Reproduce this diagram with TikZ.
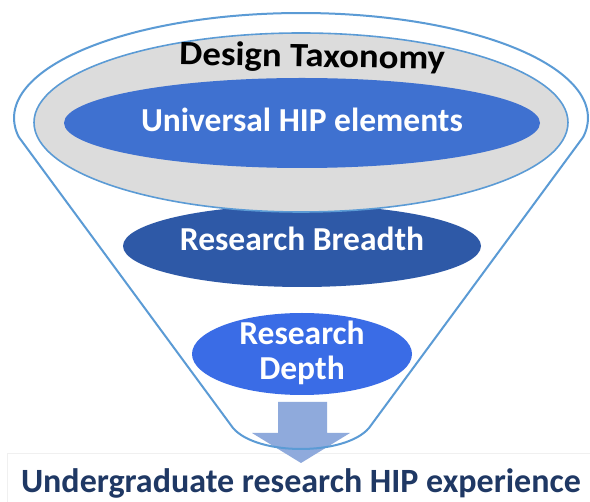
\documentclass[tikz,border=0pt]{standalone}
\usepackage{fontspec}
\setmainfont{Carlito}
\usetikzlibrary{shapes.geometric}
\definecolor{funnelblue}{HTML}{5B9BD5}
\definecolor{taxgray}{HTML}{DCDCDC}
\definecolor{univblue}{HTML}{3F71D0}
\definecolor{breadthblue}{HTML}{2E59A7}
\definecolor{depthblue}{HTML}{3A6CE6}
\definecolor{arrowblue}{HTML}{8FAADC}
\definecolor{navy}{HTML}{1F3864}
\tikzset{
  funnelline/.style={draw=funnelblue, line width=2pt, line join=round},
  layer/.style={ellipse, inner sep=0pt, outer sep=0pt},
  whitetext/.style={text=white, font=\fontsize{33.5}{36}\selectfont\bfseries, anchor=base, inner sep=0pt},
  basebox/.style={draw=black!6, fill=white, line width=0.8pt, inner sep=0pt, anchor=north west}
}
\begin{document}
\begin{tikzpicture}[x=1pt,y=-1pt]
\useasboundingbox (0,0) rectangle (590,502);
\fill[white] (0,0) rectangle (590,502);
% bottom box
\node[basebox, minimum width=584pt, minimum height=50pt] (base) at (7,453) {};
% arrow
\fill[arrowblue] (278,402) -- (327,402) -- (327,433) -- (350,433) -- (301,463) -- (252,433) -- (278,433) -- cycle;
% funnel outline
\draw[funnelline] plot[domain=190.4:-10.4, samples=90, smooth] ({301+287*cos(\x)},{118-105*sin(\x)}) -- (369,428) .. controls (345,456) and (257,456) .. (233,428) -- cycle;
% layers
\node[layer, fill=breadthblue, minimum width=358pt, minimum height=82pt] (breadth) at (302,246) {};
\node[layer, fill=taxgray, draw=funnelblue, line width=1.6pt, minimum width=534pt, minimum height=179pt] (tax) at (301,122.5) {};
\node[layer, fill=univblue, minimum width=476pt, minimum height=90pt] (univ) at (302,123) {};
\node[layer, fill=depthblue, minimum width=220pt, minimum height=82pt] (depth) at (302,354) {};
% texts
\node[font=\fontsize{34}{36}\selectfont\bfseries, anchor=base, inner sep=0pt, xscale=1.08, rotate=-1] (taxtext) at (312,67) {Design Taxonomy};
\node[whitetext] (univtext) at (302,132) {Universal HIP elements};
\node[whitetext] (breadthtext) at (302,251) {Research Breadth};
\node[whitetext] (depthtext1) at (302,345) {Research};
\node[whitetext] (depthtext2) at (302,380) {Depth};
\node[font=\fontsize{34}{36}\selectfont\bfseries, text=navy, anchor=base, inner sep=0pt] (basetext) at (301,493) {Undergraduate research HIP experience};
\end{tikzpicture}
\end{document}
